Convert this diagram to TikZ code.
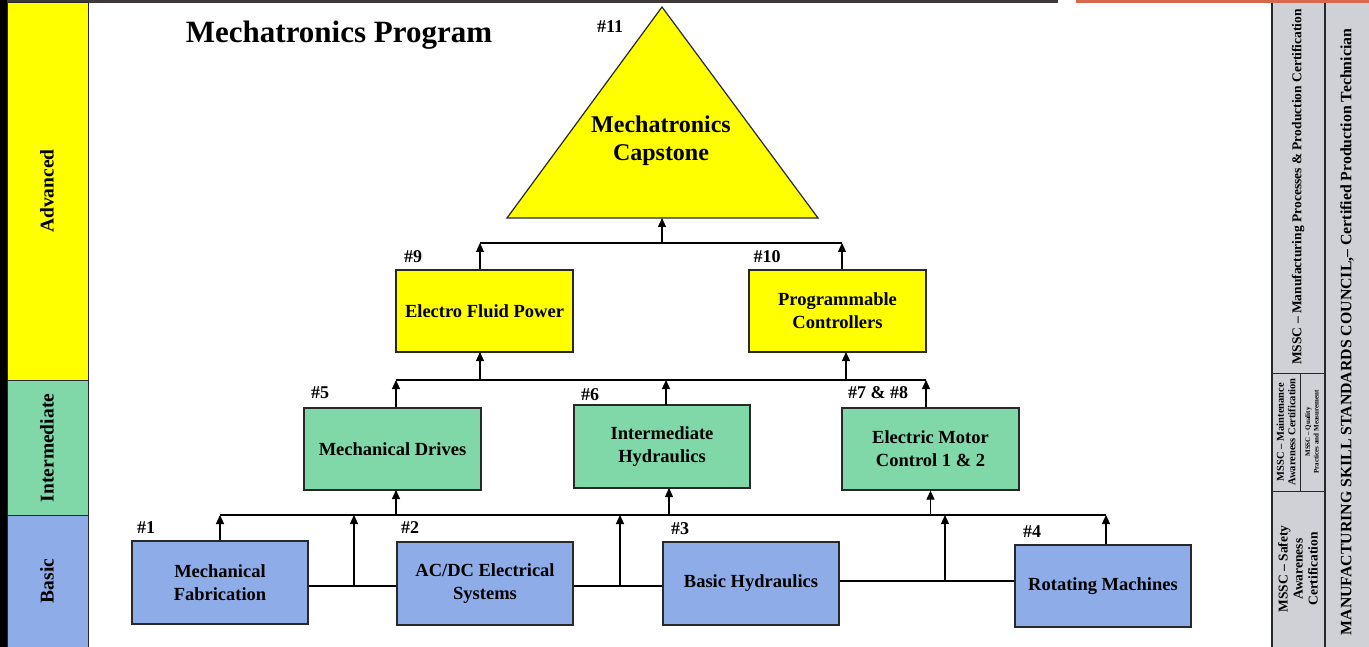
\documentclass[tikz,border=0pt]{standalone}
\usepackage{fontspec}
\setmainfont{Liberation Serif}
\usetikzlibrary{arrows.meta}
\definecolor{advY}{RGB}{255,255,0}
\definecolor{intG}{RGB}{128,216,168}
\definecolor{basB}{RGB}{142,173,232}
\definecolor{panelG}{RGB}{208,209,214}
\definecolor{topO}{RGB}{216,104,76}
\definecolor{topD}{RGB}{62,56,56}
\definecolor{edge}{RGB}{40,40,40}
\begin{document}
\begin{tikzpicture}[x=1pt,y=-1pt,
  course/.style={draw=edge, line width=1.3pt, minimum width=176pt, minimum height=82pt, inner sep=2pt, align=center, font=\bfseries\fontsize{18.5}{23}\selectfont},
  num/.style={font=\bfseries\fontsize{18}{20}\selectfont, inner sep=0pt},
  bus/.style={line width=2pt, draw=black},
  arr/.style={line width=1.2pt, -{Triangle[length=9pt,width=8pt]}},
  band/.style={draw=edge, line width=1pt},
  bandtxt/.style={rotate=90, font=\bfseries\fontsize{19.5}{21}\selectfont},
  cert/.style={rotate=90, align=center, inner sep=0pt}
]
\useasboundingbox (0,0) rectangle (1369,647);
\fill[white] (0,0) rectangle (1369,647);
% top bar
\fill[topD] (0,0) rectangle (1058,3);
\fill[topO] (1076,0) rectangle (1369,3);
% left strip and level bands
\fill[black] (0,0) rectangle (7,647);
\filldraw[fill=advY, band] (7,3) rectangle (88,380);
\filldraw[fill=intG, band] (7,380) rectangle (88,515);
\filldraw[fill=basB, band] (7,515) rectangle (88,647);
\node[bandtxt] (tAdv) at (47,191) {Advanced};
\node[bandtxt] (tInt) at (47,448) {Intermediate};
\node[bandtxt] (tBas) at (47,581) {Basic};
% right panel
\fill[panelG] (1272,3) rectangle (1369,647);
\draw[edge, line width=1.2pt] (1272,3) -- (1272,647);
\draw[edge, line width=1.6pt] (1325,3) -- (1325,647);
\draw[edge, line width=1pt] (1272,373) -- (1325,373);
\draw[edge, line width=1pt] (1272,491) -- (1325,491);
\draw[edge, line width=1pt] (1300,373) -- (1300,491);
\node[cert, font=\bfseries\fontsize{13.5}{15}\selectfont] (cMan) at (1298,187) {MSSC -- Manufacturing Processes \& Production Certification};
\node[cert, font=\bfseries\fontsize{10.5}{11.5}\selectfont] (cMnt) at (1286,432) {MSSC -- Maintenance\\Awareness Certification};
\node[cert, font=\bfseries\fontsize{7}{8.5}\selectfont] (cQual) at (1312,432) {MSSC -- Quality\\Practices and Measurement};
\node[cert, font=\bfseries\fontsize{13.5}{15}\selectfont] (cSaf) at (1298,569) {MSSC -- Safety\\Awareness\\Certification};
\node[cert, font=\bfseries\fontsize{15.8}{17}\selectfont] (cMssc) at (1347,332) {MANUFACTURING SKILL STANDARDS COUNCIL,-- Certified Production Technician};
% title
\node[font=\bfseries\fontsize{31}{33}\selectfont, inner sep=0pt] (title) at (339,35) {Mechatronics Program};
% capstone triangle
\coordinate (apex) at (662,7);
\coordinate (tl) at (507,218);
\coordinate (tr) at (818,218);
\coordinate (capbase) at (662,218);
\filldraw[fill=advY, draw=edge, line width=1.2pt] (apex) -- (tr) -- (tl) -- cycle;
\node[align=center, font=\bfseries\fontsize{24}{28}\selectfont] (cap) at (661,141) {Mechatronics\\Capstone};
\node[num] (n11) at (610,27) {\#11};
% advanced boxes
\node[course, fill=advY, minimum width=177pt] (b9) at (484.5,311) {Electro Fluid Power};
\node[course, fill=advY, minimum width=177pt] (b10) at (837.5,311) {Programmable\\Controllers};
\node[num] (n9) at (413,257) {\#9};
\node[num] (n10) at (767,257) {\#10};
% intermediate boxes
\node[course, fill=intG, minimum width=177pt] (b5) at (392.5,449) {Mechanical Drives};
\node[course, fill=intG, minimum height=83pt] (b6) at (662,446.5) {Intermediate\\Hydraulics};
\node[course, fill=intG, minimum width=177pt] (b7) at (930.5,449) {Electric Motor\\Control 1 \& 2};
\node[num] (n5) at (320,393) {\#5};
\node[num] (n6) at (590,395) {\#6};
\node[num] (n7) at (878,393) {\#7 \& \#8};
% basic boxes
\node[course, fill=basB, minimum height=83pt] (b1) at (220,582.5) {Mechanical\\Fabrication};
\node[course, fill=basB, minimum height=83pt] (b2) at (485,583.5) {AC/DC Electrical\\Systems};
\node[course, fill=basB, minimum height=83pt] (b3) at (751,583.5) {Basic Hydraulics};
\node[course, fill=basB] (b4) at (1103,586) {Rotating Machines};
\node[num] (n1) at (146,528) {\#1};
\node[num] (n2) at (410,528) {\#2};
\node[num] (n3) at (680,529) {\#3};
\node[num] (n4) at (1032,532) {\#4};
% buses
\coordinate (bus1L) at (480,243);
\coordinate (bus1R) at (842,243);
\coordinate (bus2L) at (396,380);
\coordinate (bus2R) at (926,380);
\coordinate (bus3L) at (220,515);
\coordinate (bus3R) at (1106,515);
\coordinate (j12) at (354,586);
\coordinate (j23) at (620,586);
\coordinate (j34) at (945,581);
\coordinate (b9in) at (480,352);
\coordinate (b10in) at (846,352);
\coordinate (b5in) at (396,490);
\coordinate (b6in) at (669,488);
\coordinate (b6out) at (666,405);
% top level
\draw[bus] (bus1L) -- (bus1R);
\draw[arr] (b9.north -| bus1L) -- (bus1L);
\draw[arr] (b10.north -| bus1R) -- (bus1R);
\draw[arr] (bus1L -| capbase) -- (capbase);
% intermediate level
\draw[bus] (bus2L) -- (bus2R);
\draw[arr] (b5.north -| bus2L) -- (bus2L);
\draw[arr] (b6out) -- (b6out |- bus2L);
\draw[arr] (b7.north -| bus2R) -- (bus2R);
\draw[arr] (bus2L -| b9in) -- (b9in);
\draw[arr] (bus2L -| b10in) -- (b10in);
% basic level
\draw[bus] (bus3L) -- (bus3R);
\draw[bus] (b1.east |- j12) -- (b2.west |- j12);
\draw[bus] (b2.east |- j23) -- (b3.west |- j23);
\draw[bus] (b3.east |- j34) -- (b4.west |- j34);
\draw[arr] (b1.north) -- (b1.north |- bus3L);
\draw[arr] (j12) -- (j12 |- bus3L);
\draw[arr] (j23) -- (j23 |- bus3L);
\draw[arr] (j34) -- (j34 |- bus3L);
\draw[arr] (b4.north -| bus3R) -- (bus3R);
\draw[arr] (bus3L -| b5in) -- (b5in);
\draw[arr] (bus3L -| b6in) -- (b6in);
\draw[arr] (bus3L -| b7.south) -- (b7.south);
\end{tikzpicture}
\end{document}
